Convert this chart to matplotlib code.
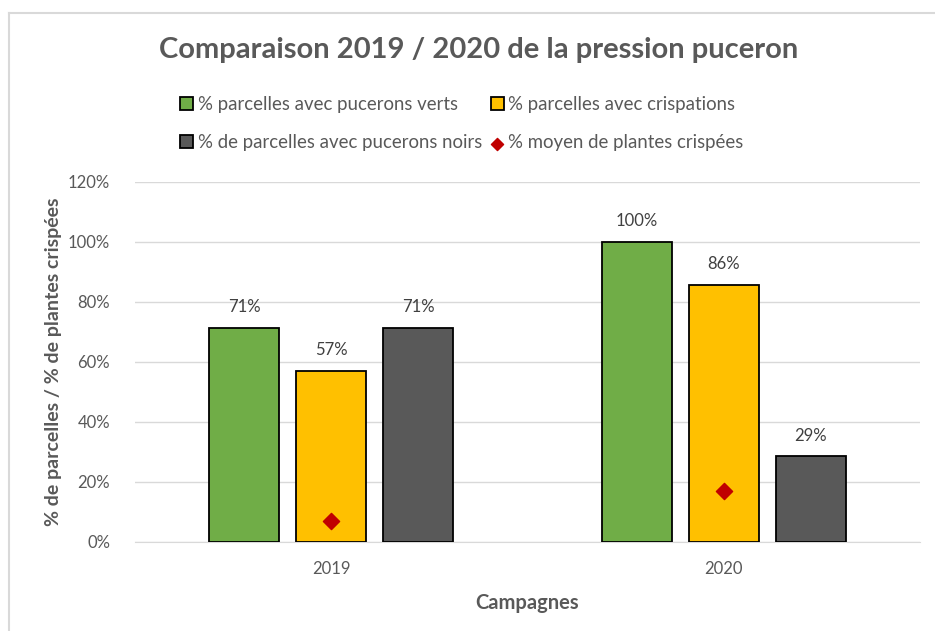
import matplotlib
matplotlib.use("Agg")
import matplotlib.pyplot as plt
from matplotlib.lines import Line2D
from matplotlib.ticker import PercentFormatter
import numpy as np

plt.rcParams['font.family'] = ['Lato', 'DejaVu Sans']

campagnes = ["2019", "2020"]
series_names = ["% parcelles avec pucerons verts",
                "% parcelles avec crispations",
                "% de parcelles avec pucerons noirs"]
pucerons_verts = [0.714, 1.0]
crispations = [0.571, 0.857]
pucerons_noirs = [0.714, 0.286]
plantes_crispees = [0.07, 0.17]
marker_name = "% moyen de plantes crispées"

colors = ["#70AD47", "#FFC000", "#595959"]
txt = "#595959"

fig = plt.figure(figsize=(9.35, 6.31), dpi=100)
ax = fig.add_axes([135/935, (631-542)/631, (920-135)/935, (542-182)/631])

x = np.arange(len(campagnes))
width = 0.178
step = 0.222
bars = []
for i, (vals, name, c) in enumerate(zip([pucerons_verts, crispations, pucerons_noirs], series_names, colors)):
    b = ax.bar(x + (i - 1) * step, vals, width, color=c, edgecolor="black",
               linewidth=1.3, label=name, zorder=3)
    bars.append(b)
    for xi, v in zip(x + (i - 1) * step, vals):
        ax.annotate(f"{v:.0%}", (xi, v), xytext=(0, 9), textcoords="offset points",
                    ha="center", va="bottom", fontsize=12, color="#404040")

m = ax.scatter(x, plantes_crispees, marker="D", s=68, color="#C00000", zorder=4,
               label=marker_name)

ax.set_xlim(-0.5, 1.5)
ax.set_ylim(0, 1.2)
ax.set_yticks(np.arange(0, 1.21, 0.2))
ax.yaxis.set_major_formatter(PercentFormatter(1.0, decimals=0))
ax.set_xticks(x)
ax.set_xticklabels(campagnes)
ax.grid(axis="y", color="#D9D9D9", linewidth=1, zorder=0)
for s in ["top", "right", "left"]:
    ax.spines[s].set_visible(False)
ax.spines["bottom"].set_color("#D9D9D9")
ax.tick_params(axis="both", length=0, labelsize=12, colors=txt)
ax.tick_params(axis="y", pad=18)
ax.tick_params(axis="x", pad=14)

ax.set_ylabel("% de parcelles / % de plantes crispées", fontsize=14, fontweight="bold",
              color=txt, labelpad=4)
ax.set_xlabel("Campagnes", fontsize=14.5, fontweight="bold", color=txt, labelpad=11)

fig.text(479/935, 1 - 50/631, "Comparaison 2019 / 2020 de la pression puceron",
         ha="center", va="center", fontsize=21, fontweight="bold", color=txt)

handles = [bars[0], bars[2], bars[1], m]
labels = [series_names[0], series_names[2], series_names[1], marker_name]
fig.legend(handles, labels, ncol=2, loc="center", bbox_to_anchor=(462/935, 1 - 123.5/631),
           frameon=False, fontsize=13.4, labelcolor=txt, handlelength=0.7, handleheight=0.7,
           handletextpad=0.25, columnspacing=0.45, labelspacing=1.17, borderpad=0,
           markerscale=0.75)

# frame lines around the chart
fig.add_artist(Line2D([9/935, 9/935], [0, 1 - 13/631], color="#D9D9D9", linewidth=1.5))
fig.add_artist(Line2D([9/935, 1], [1 - 13/631, 1 - 13/631], color="#D9D9D9", linewidth=1.5))

fig.savefig("out.png", dpi=100)
